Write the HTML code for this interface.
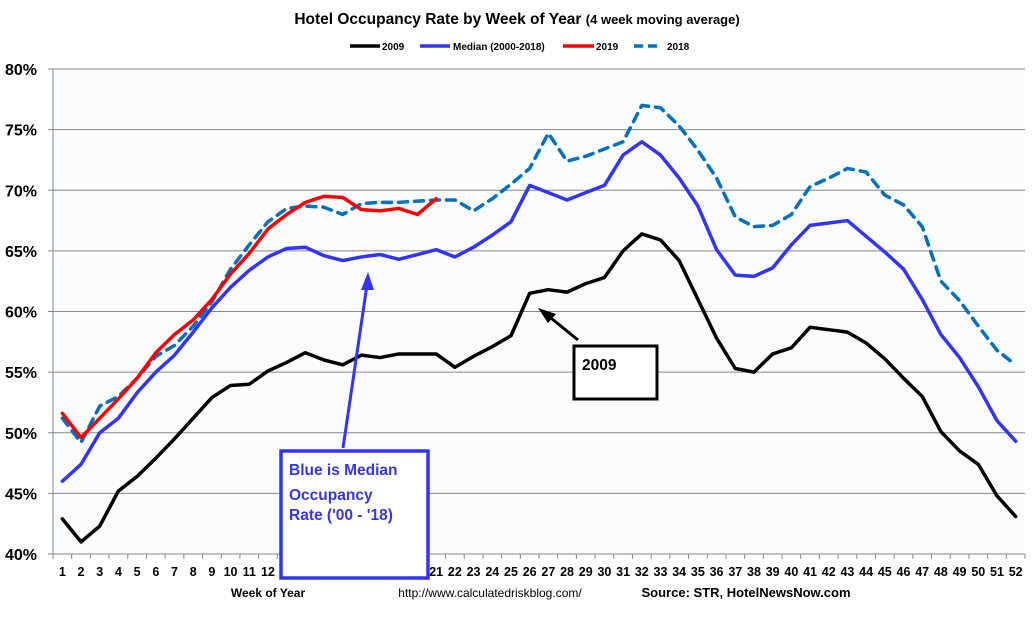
<!DOCTYPE html>
<html><head><meta charset="utf-8"><style>
body{margin:0;background:#fff;}
svg text{font-family:"Liberation Sans",sans-serif;}
</style></head><body>
<svg id="chart" width="1035" height="617" xmlns="http://www.w3.org/2000/svg">
<rect width="1035" height="617" fill="#fff"/>
<rect x="53" y="69" width="972" height="485" fill="#fbfcfe"/>
<text x="517" y="24" text-anchor="middle" font-size="15.5" font-weight="bold">Hotel Occupancy Rate by  Week of Year <tspan font-size="13">(4 week moving average)</tspan></text>
<g id="grid"></g>
<g id="series"></g>
<g font-size="10" font-weight="bold">
<line x1="350" y1="46" x2="380" y2="46" stroke="#000" stroke-width="3.5"/>
<text x="382" y="50">2009</text>
<line x1="420" y1="46" x2="450" y2="46" stroke="#3333ff" stroke-width="3.5"/>
<text x="453" y="50">Median (2000-2018)</text>
<line x1="563" y1="46" x2="594" y2="46" stroke="#ff0000" stroke-width="3.5"/>
<text x="596" y="50">2019</text>
<line x1="634" y1="46" x2="661" y2="46" stroke="#0070c0" stroke-width="3.5" stroke-dasharray="9,5"/>
<text x="667" y="50">2018</text>
</g>
<text x="268" y="597" text-anchor="middle" font-size="12" font-weight="bold">Week of Year</text>
<text x="490" y="597" text-anchor="middle" font-size="12">http://www.calculatedriskblog.com/</text>
<text x="746" y="597" text-anchor="middle" font-size="13" font-weight="bold">Source: STR, HotelNewsNow.com</text>
<g>
<line x1="343" y1="448" x2="367" y2="285" stroke="#3333ff" stroke-width="3"/>
<polygon points="368,272 361,290 374,290" fill="#3333ff"/>
<rect x="281" y="451" width="147" height="127" fill="#fff" stroke="#3333ff" stroke-width="3.5"/>
<text x="289" y="475" font-size="15.5" font-weight="bold" fill="#3333ff">Blue is Median</text>
<text x="289" y="500" font-size="15.5" font-weight="bold" fill="#3333ff">Occupancy</text>
<text x="289" y="520" font-size="15.5" font-weight="bold" fill="#3333ff">Rate ('00 - '18)</text>
</g>
<g>
<line x1="578" y1="340" x2="546" y2="314" stroke="#000" stroke-width="3"/>
<polygon points="538,308 556,314 548,323" fill="#000"/>
<rect x="574" y="346" width="83" height="53" fill="#fff" stroke="#000" stroke-width="3"/>
<text x="582" y="370" font-size="15.5" font-weight="bold">2009</text>
</g>
</svg>
<script>
const weeks=[];for(let i=1;i<=52;i++)weeks.push(i);
const yTicks=[40,45,50,55,60,65,70,75,80];
const s2009=[42.9,41.0,42.3,45.2,46.4,47.9,49.5,51.2,52.9,53.9,54.0,55.1,55.8,56.6,56.0,55.6,56.4,56.2,56.5,56.5,56.5,55.4,56.3,57.1,58.0,61.5,61.8,61.6,62.3,62.8,65.0,66.4,65.9,64.2,61.0,57.8,55.3,55.0,56.5,57.0,58.7,58.5,58.3,57.4,56.1,54.5,53.0,50.1,48.5,47.4,44.8,43.1];
const sMedian=[46.0,47.4,50.0,51.2,53.3,55.0,56.4,58.3,60.3,62.0,63.4,64.5,65.2,65.3,64.6,64.2,64.5,64.7,64.3,64.7,65.1,64.5,65.3,66.3,67.4,70.4,69.8,69.2,69.8,70.4,72.9,74.0,72.9,71.0,68.7,65.1,63.0,62.9,63.6,65.5,67.1,67.3,67.5,66.2,64.9,63.5,61.0,58.1,56.2,53.8,51.0,49.3];
const s2018=[51.2,49.2,52.2,53.0,54.5,56.3,57.2,58.8,60.8,63.5,65.5,67.4,68.5,68.7,68.6,68.0,68.9,69.0,69.0,69.1,69.2,69.2,68.3,69.3,70.5,71.8,74.7,72.4,72.8,73.4,74.0,77.0,76.8,75.3,73.3,71.0,67.8,67.0,67.1,68.0,70.3,71.0,71.8,71.5,69.6,68.8,67.0,62.5,60.9,58.8,56.8,55.6];
const s2019=[51.6,49.6,51.2,52.8,54.5,56.6,58.1,59.3,61.0,63.1,64.8,66.8,68.0,69.0,69.5,69.4,68.4,68.3,68.5,68.0,69.3];
const L=53,R=1025,T=69,B=554;
const bw=(R-L)/52;
const x=w=>L+(w-0.5)*bw;
const y=v=>B-(v-40)/40*(B-T);
const NS="http://www.w3.org/2000/svg";
const grid=document.getElementById('grid'),ser=document.getElementById('series');
function mk(tag,attrs,parent){const e=document.createElementNS(NS,tag);for(const k in attrs)e.setAttribute(k,attrs[k]);parent.appendChild(e);return e;}
yTicks.forEach(t=>{
 const g=mk('line',{x1:L-5,x2:R,y1:y(t),y2:y(t),stroke:'#888','stroke-width':1},grid);
 
 
 const tx=mk('text',{x:37,y:y(t)+6,'text-anchor':'end','font-size':16,'font-weight':'bold'},grid);
 tx.textContent=t+'%';
 
 
});
mk('line',{x1:L,x2:L,y1:T,y2:B,stroke:'#888'},grid);
weeks.forEach(w=>{
 mk('line',{x1:L+w*bw,x2:L+w*bw,y1:B,y2:B+5,stroke:'#888'},grid);
 const tx=mk('text',{x:x(w),y:B+22,'text-anchor':'middle','font-size':12.5,'font-weight':'bold'},grid);
 tx.textContent=w;
 
 
});
mk('line',{x1:L,x2:L,y1:B,y2:B+5,stroke:'#888'},grid);
function line(data,color,name,dash){
 const p=mk('polyline',{points:data.map((v,i)=>x(i+1)+','+y(v)).join(' '),fill:'none',stroke:color,'stroke-width':3.5,'stroke-linejoin':'round','stroke-linecap':'round'},ser);
 if(dash)p.setAttribute('stroke-dasharray',dash);
 
 
}
line(s2009,'#000','series-2009');
line(sMedian,'#3333ff','series-median');
line(s2018,'#0070c0','series-2018','9,7');
line(s2019,'#ff0000','series-2019');
</script>
</body></html>
